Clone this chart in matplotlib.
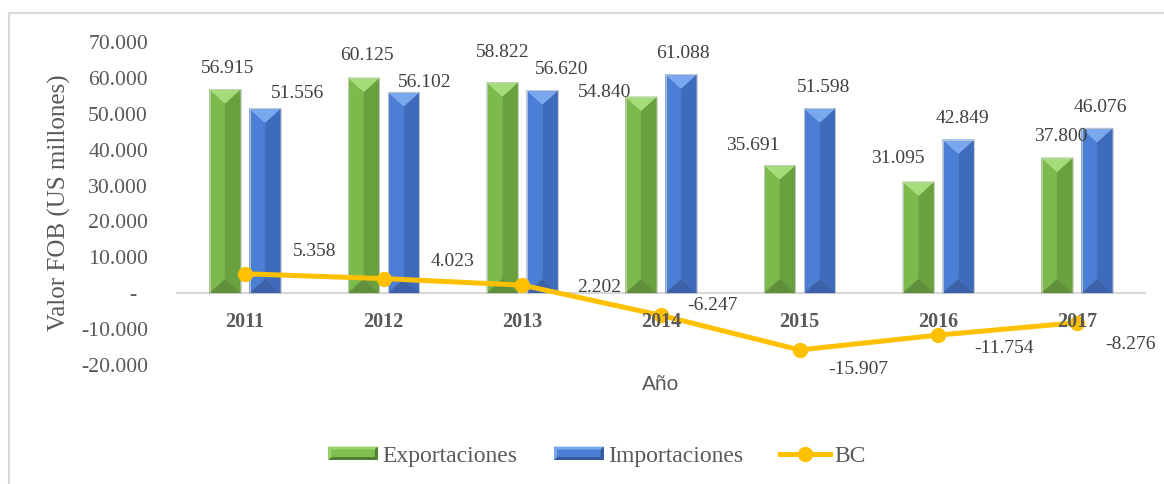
import matplotlib
matplotlib.use('Agg')
import matplotlib.pyplot as plt
from matplotlib.patches import Polygon, Rectangle
from matplotlib.legend_handler import HandlerBase
from matplotlib.lines import Line2D

# ---------------- data ----------------
years = ['2011', '2012', '2013', '2014', '2015', '2016', '2017']
exportaciones = [56915, 60125, 58822, 54840, 35691, 31095, 37800]
importaciones = [51556, 56102, 56620, 61088, 51598, 42849, 46076]
bc = [5358, 4023, 2202, -6247, -15907, -11754, -8276]
y_ticks = [-20000, -10000, 0, 10000, 20000, 30000, 40000, 50000, 60000, 70000]

# ---------------- layout (label offsets in pixels: right+, down+) ----------------
exp_off = [(3, -23), (3, -24), (0, -32), (-36, -6), (-27, -22), (-21, -25), (4, -23)]
imp_off = [(32, -17), (21, -12), (19, -23), (2, -23), (4, -23), (4, -23), (3, -22)]
bc_off = [(70, -24), (69, -19), (77, 0), (51, -12), (59, 18), (66, 12), (53, 20)]

SERIF = 'Liberation Serif'
TXT = '#595959'
LBL = '#404040'
GREEN = ('#a3dc78', '#7cba4c', '#6aa13f', '#5f8f3b')  # top, left, right, bottom
BLUE = ('#7aa8ef', '#4b7fd6', '#3f6bbd', '#3b62a8')


def fmt(v):
    return f"{v:,}".replace(',', '.')


W, H = 1164, 484
fig = plt.figure(figsize=(W / 100, H / 100), dpi=100)
ax = fig.add_axes([175.7 / W, (H - 364.6) / H, 970.7 / W, 322.2 / H])
ax.set_xlim(-0.5, len(years) - 0.5)
ax.set_ylim(-20000, 70000)
for s in ax.spines.values():
    s.set_visible(False)
ax.set_xticks([])
ax.set_yticks(y_ticks)
ax.set_yticklabels([fmt(t) if t != 0 else '-  ' for t in y_ticks],
                   family=SERIF, fontsize=15.7, color=TXT)
ax.tick_params(axis='y', length=0, pad=20)
ax.axhline(0, color='#d9d9d9', lw=1.6, zorder=1)

x = list(range(len(years)))
px_x = 970.7 / len(years)  # pixels per category
off = 20 / px_x
bw = 31 / px_x
ppy = 322.2 / 90000  # pixels per data unit (y)

bars_e = ax.bar([i - off for i in x], exportaciones, width=bw, facecolor='none',
                edgecolor='#c9c9c9', lw=0.6, zorder=3)
bars_i = ax.bar([i + off for i in x], importaciones, width=bw, facecolor='none',
                edgecolor='#c9c9c9', lw=0.6, zorder=3)


def bevel(bars, cols):
    top_c, left_c, right_c, bot_c = cols
    for r in bars:
        x0 = r.get_x()
        x1 = x0 + r.get_width()
        xc = (x0 + x1) / 2
        b = r.get_y()
        t = b + r.get_height()
        d = min(14 / ppy, r.get_height() / 2)
        polys = [
            ([(x0, b), (xc, b + d), (xc, t - d), (x0, t)], left_c),
            ([(x1, b), (xc, b + d), (xc, t - d), (x1, t)], right_c),
            ([(x0, t), (x1, t), (xc, t - d)], top_c),
            ([(x0, b), (x1, b), (xc, b + d)], bot_c),
        ]
        for pts, c in polys:
            ax.add_patch(Polygon(pts, closed=True, facecolor=c, edgecolor=c,
                                 lw=0.3, zorder=2))


bevel(bars_e, GREEN)
bevel(bars_i, BLUE)

line, = ax.plot(x, bc, color='#FFC000', lw=3.6, marker='o', markersize=10,
                zorder=4, solid_capstyle='round')

DIG = 6.4  # half digit height (px) for data labels


def put(text, xy, offpx, size, color, weight='normal', z=5, dig=DIG):
    ax.annotate(text, xy=xy, xytext=(offpx[0] * 0.72, -(offpx[1] + dig) * 0.72),
                textcoords='offset points', ha='center', va='baseline',
                family=SERIF, fontsize=size, color=color, fontweight=weight,
                zorder=z, annotation_clip=False)


for i, r in enumerate(bars_e):
    put(fmt(exportaciones[i]), (r.get_x() + r.get_width() / 2, exportaciones[i]),
        exp_off[i], 14, LBL)
for i, r in enumerate(bars_i):
    put(fmt(importaciones[i]), (r.get_x() + r.get_width() / 2, importaciones[i]),
        imp_off[i], 14, LBL)
for i, v in enumerate(bc):
    put(fmt(v), (x[i], v), bc_off[i], 14, LBL)

# category labels next to the zero line
for i, yl in enumerate(years):
    put(yl, (x[i], 0), (0, 27), 14.5, TXT, weight='bold', z=6, dig=6.8)

# axis titles
fig.text(59 / W, 1 - 203 / H, 'Valor FOB (US millones)', rotation=90,
         ha='center', va='center', family=SERIF, fontsize=18, color=TXT)
fig.text(661 / W, 1 - 384 / H, 'Año', ha='center', va='center',
         family='Liberation Sans', fontsize=15, color=TXT)

# chart area border (partly cut off in the source)
fig.add_artist(Line2D([8.5 / W, 8.5 / W], [0, 1 - 13 / H], transform=fig.transFigure,
                      color='#d9d9d9', lw=1.5))
fig.add_artist(Line2D([8.5 / W, 1], [1 - 13 / H, 1 - 13 / H], transform=fig.transFigure,
                      color='#d9d9d9', lw=1.5))


class BevelHandler(HandlerBase):
    def __init__(self, cols, **kw):
        super().__init__(**kw)
        self.cols = cols

    def create_artists(self, legend, orig_handle, xdescent, ydescent, width, height,
                       fontsize, trans):
        light, face, dark = self.cols
        hh = height * 0.85
        x0 = -xdescent
        y0 = -ydescent + (height - hh) / 2
        b = hh * 0.22
        arts = [Rectangle((x0, y0), width, hh, facecolor=face, edgecolor='none',
                          transform=trans)]
        arts.append(Polygon([(x0, y0 + hh), (x0 + width, y0 + hh),
                             (x0 + width - b, y0 + hh - b), (x0 + b, y0 + hh - b)],
                            closed=True, facecolor=light, edgecolor='none', transform=trans))
        arts.append(Polygon([(x0, y0), (x0 + width, y0), (x0 + width - b, y0 + b),
                             (x0 + b, y0 + b)], closed=True, facecolor=dark,
                            edgecolor='none', transform=trans))
        arts.append(Polygon([(x0 + width, y0), (x0 + width, y0 + hh),
                             (x0 + width - b, y0 + hh - b), (x0 + width - b, y0 + b)],
                            closed=True, facecolor=dark, edgecolor='none', transform=trans))
        arts.append(Polygon([(x0, y0), (x0, y0 + hh), (x0 + b, y0 + hh - b),
                             (x0 + b, y0 + b)], closed=True, facecolor=light,
                            edgecolor='none', transform=trans))
        return arts


h_e = Rectangle((0, 0), 1, 1)
h_i = Rectangle((0, 0), 1, 1)
h_bc = Line2D([], [], color='#FFC000', lw=3.6, marker='o', markersize=10)
leg = fig.legend([h_e, h_i, h_bc], ['Exportaciones', 'Importaciones', 'BC'],
                 loc='center', bbox_to_anchor=(597 / W, 1 - 456 / H), ncol=3,
                 frameon=False, prop={'family': SERIF, 'size': 17},
                 labelcolor=TXT, handlelength=2.1, handleheight=0.65,
                 handletextpad=0.2, columnspacing=1.55,
                 handler_map={h_e: BevelHandler(('#9bd36c', '#7fbf4f', '#4f7d31')),
                              h_i: BevelHandler(('#7aa8ef', '#4b7fd6', '#34589a'))})

fig.savefig('out.png', dpi=100)
